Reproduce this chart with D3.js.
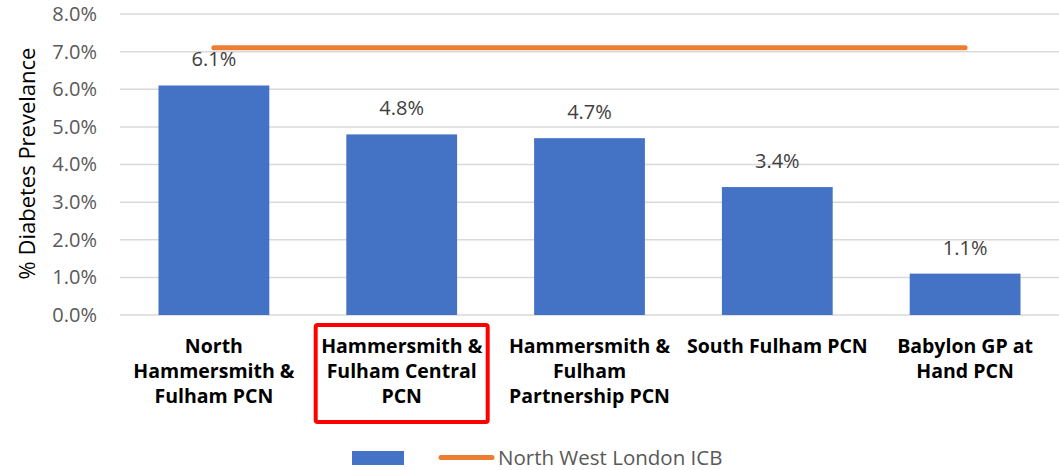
<!DOCTYPE html>
<html>
<head>
<meta charset="utf-8">
<script src="https://cdn.jsdelivr.net/npm/d3@7"></script>
<style>
  body { margin: 0; background: #fff; }
  svg { font-family: "Open Sans", sans-serif; }
</style>
</head>
<body>
<svg id="chart" width="1059" height="470"></svg>
<script>
// data
const categories = [
    ["North", "Hammersmith &", "Fulham PCN"],
    ["Hammersmith &", "Fulham Central", "PCN"],
    ["Hammersmith &", "Fulham", "Partnership PCN"],
    ["South Fulham PCN"],
    ["Babylon GP at", "Hand PCN"]
];
const prevalence = [6.1, 4.8, 4.7, 3.4, 1.1];
const icbValue = 7.1;
const yTicks = [0, 1, 2, 3, 4, 5, 6, 7, 8];
const highlighted = 1;

const svg = d3.select('#chart');
const margin = {left: 120, right: 0, top: 14, bottom: 155};
const W = 1059, H = 470;

const x = d3.scaleBand()
    .domain(d3.range(categories.length))
    .range([margin.left, W - margin.right])
    .paddingInner(0.41)
    .paddingOuter(0.205);

const y = d3.scaleLinear().domain([0, 8]).range([H - margin.bottom, margin.top]);

// gridlines
svg.append('g').selectAll('line')
    .data(yTicks)
    .enter().append('line')
    .attr('x1', margin.left).attr('x2', W)
    .attr('y1', d => y(d)).attr('y2', d => y(d))
    .attr('stroke', '#d9d9d9').attr('stroke-width', 1.5);

// y axis labels
const yAxis = svg.append('g')
    .attr('transform', `translate(${margin.left},0)`)
    .call(d3.axisLeft(y).tickValues(yTicks).tickSize(0).tickPadding(23).tickFormat(d => d.toFixed(1) + '%'));
yAxis.select('.domain').remove();
yAxis.selectAll('text')
    .attr('fill', '#595959')
    .style('font-size', '20px')
    .style('font-family', '"Open Sans", sans-serif');

svg.append('text')
    .attr('transform', `translate(35,${y(4) - 1}) rotate(-90)`)
    .attr('text-anchor', 'middle')
    .attr('fill', '#000')
    .style('font-size', '22px')
    .text('% Diabetes Prevelance');

// bars
svg.append('g').selectAll('rect')
    .data(prevalence)
    .enter().append('rect')
    .attr('x', (d, i) => x(i))
    .attr('width', x.bandwidth())
    .attr('y', d => y(d))
    .attr('height', d => y(0) - y(d))
    .attr('fill', '#4472c4');

// data labels
svg.append('g').selectAll('text')
    .data(prevalence)
    .enter().append('text')
    .attr('x', (d, i) => x(i) + x.bandwidth() / 2)
    .attr('y', d => y(d) - 19)
    .attr('text-anchor', 'middle')
    .attr('fill', '#404040')
    .style('font-size', '20px')
    .text(d => d.toFixed(1) + '%');

// ICB line
const cx = i => x(i) + x.bandwidth() / 2;
svg.append('path')
    .datum(prevalence.map((d, i) => i))
    .attr('d', d3.line().x(i => cx(i)).y(() => y(icbValue)))
    .attr('fill', 'none')
    .attr('stroke', '#ed7d31')
    .attr('stroke-width', 5)
    .attr('stroke-linecap', 'round');

// category labels
const catG = svg.append('g');
categories.forEach((lines, i) => {
    const t = catG.append('text')
        .attr('x', cx(i))
        .attr('y', 353)
        .attr('text-anchor', 'middle')
        .attr('fill', '#000')
        .style('font-size', '19.5px')
        .style('font-weight', 'bold');
    lines.forEach((l, j) => {
        t.append('tspan').attr('x', cx(i)).attr('dy', j ? 25 : 0).text(l);
    });
});

// highlight box around the selected PCN
svg.append('rect')
    .attr('x', cx(highlighted) - 86)
    .attr('y', 325)
    .attr('width', 172)
    .attr('height', 97)
    .attr('rx', 2)
    .attr('fill', 'none')
    .attr('stroke', '#ff0000')
    .attr('stroke-width', 4);

// legend
const leg = svg.append('g');
leg.append('rect')
    .attr('x', 352).attr('y', 451).attr('width', 52).attr('height', 14)
    .attr('fill', '#4472c4');
leg.append('line')
    .attr('x1', 441).attr('x2', 492).attr('y1', 457.5).attr('y2', 457.5)
    .attr('stroke', '#ed7d31').attr('stroke-width', 5).attr('stroke-linecap', 'round');
leg.append('text')
    .attr('x', 498).attr('y', 465)
    .attr('fill', '#595959')
    .style('font-size', '20.5px')
    .text('North West London ICB');
</script>
</body>
</html>
